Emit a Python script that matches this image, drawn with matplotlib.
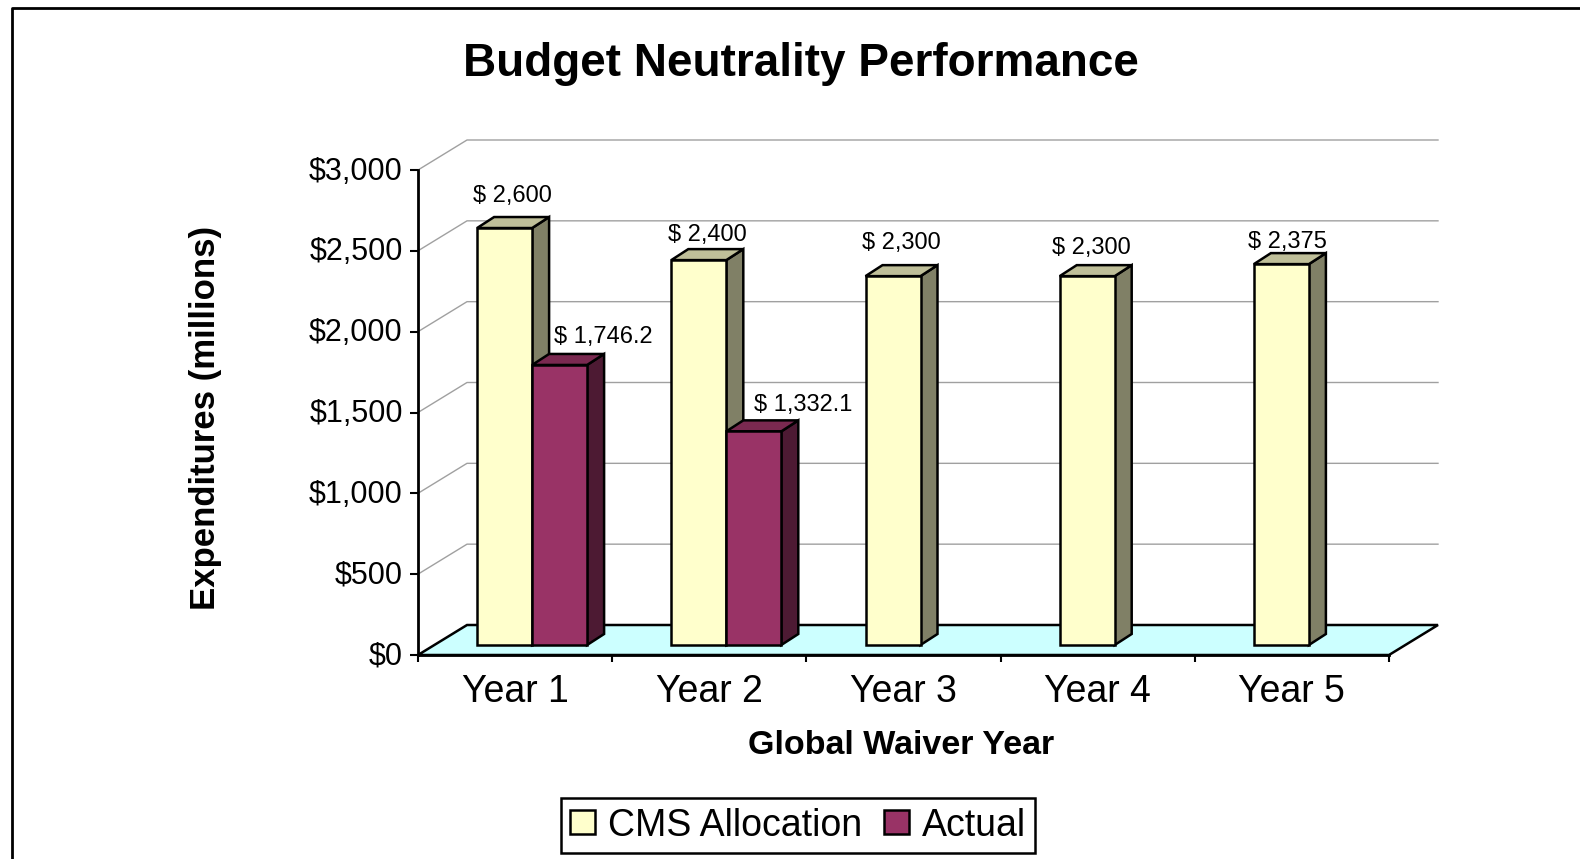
import matplotlib
matplotlib.use("Agg")
import matplotlib.pyplot as plt
from matplotlib.lines import Line2D
from matplotlib.patches import Patch, Polygon
from matplotlib.transforms import ScaledTranslation

plt.rcParams["font.family"] = ["Liberation Sans", "DejaVu Sans"]

# data
years = ["Year 1", "Year 2", "Year 3", "Year 4", "Year 5"]
cms_allocation = [2600, 2400, 2300, 2300, 2375]
actual = [1746.2, 1332.1, None, None, None]
cms_labels = ["$ 2,600", "$ 2,400", "$ 2,300", "$ 2,300", "$ 2,375"]
actual_labels = ["$ 1,746.2", "$ 1,332.1", None, None, None]
y_ticks = [0, 500, 1000, 1500, 2000, 2500, 3000]

# figure layout, in pixels of the 1580x859 image
W, H = 1580, 859
AX_LEFT, AX_RIGHT = 418, 1389
AX_TOP, AX_BOTTOM = 170, 655
YMAX = 3000
PX_X = 5 / (AX_RIGHT - AX_LEFT)
PX_Y = YMAX / (AX_BOTTOM - AX_TOP)

# depth of the fake 3D, converted to data units
WALL_DX, WALL_DY = 49 * PX_X, 30 * PX_Y
BAR_DX, BAR_DY = 17 * PX_X, 11 * PX_Y
FRONT_DX, FRONT_DY = 17 * PX_X, 10 * PX_Y
BAR_W = 55 * PX_X
# the bars stand further back than the axis, so they come out a little shorter
BAR_SCALE = 0.992

CMS_COLORS = ("#FFFFCC", "#BFBF99", "#808066")
ACTUAL_COLORS = ("#993366", "#7A2950", "#4D1A33")

# labels were placed by hand in the original, offsets are px from the bar centre
cms_offsets = [(8, 32), (9, 25), (8, 33), (4, 28), (6, 22)]
actual_offsets = [(44, 28), (49, 26), None, None, None]

fig = plt.figure(figsize=(W / 100, H / 100), dpi=100)
ax = fig.add_axes([AX_LEFT / W, 1 - AX_BOTTOM / H, (AX_RIGHT - AX_LEFT) / W, (AX_BOTTOM - AX_TOP) / H])
ax.set_xlim(0, 5)
ax.set_ylim(0, YMAX)
ax.patch.set_visible(False)


def draw_bar(x, value, colors, z):
    """Front face plus top and side faces of one bar."""
    front, top, side = colors
    height = value * BAR_SCALE
    y0 = FRONT_DY
    y1 = FRONT_DY + height
    x1 = x + BAR_W
    ax.add_patch(Polygon([(x1, y0), (x1 + BAR_DX, y0 + BAR_DY), (x1 + BAR_DX, y1 + BAR_DY), (x1, y1)],
                         facecolor=side, edgecolor="black", lw=1.8, zorder=z, clip_on=False, joinstyle="miter"))
    ax.add_patch(Polygon([(x, y1), (x + BAR_DX, y1 + BAR_DY), (x1 + BAR_DX, y1 + BAR_DY), (x1, y1)],
                         facecolor=top, edgecolor="black", lw=1.8, zorder=z, clip_on=False, joinstyle="miter"))
    ax.bar(x, height, width=BAR_W, bottom=y0, align="edge", color=front, edgecolor="black",
           linewidth=1.8, zorder=z + 0.1, clip_on=False)


def draw_label(x, value, text, offset):
    ax.annotate(text, xy=(x + BAR_W / 2, FRONT_DY + value * BAR_SCALE), xytext=offset, textcoords="offset pixels",
                ha="center", va="center", fontsize=17, color="black", zorder=50, annotation_clip=False)


# back wall grid lines, with the short diagonal on the side wall
for v in y_ticks[1:]:
    ax.plot([0, WALL_DX, 5 + WALL_DX], [v, v + WALL_DY, v + WALL_DY], color="#A0A0A0", lw=1,
            zorder=1, clip_on=False)

# floor
ax.add_patch(Polygon([(0, 0), (WALL_DX, WALL_DY), (5 + WALL_DX, WALL_DY), (5, 0)], facecolor="#CCFFFF",
                     edgecolor="black", lw=1.8, zorder=2, clip_on=False))

for i in range(len(years)):
    centre = i + 0.5
    draw_bar(centre - BAR_W + FRONT_DX, cms_allocation[i], CMS_COLORS, 3 + i)
    draw_label(centre - BAR_W + FRONT_DX, cms_allocation[i], cms_labels[i], cms_offsets[i])
    if actual[i] is not None:
        draw_bar(centre + FRONT_DX, actual[i], ACTUAL_COLORS, 3.5 + i)
        draw_label(centre + FRONT_DX, actual[i], actual_labels[i], actual_offsets[i])

# axes
for name in ["top", "right"]:
    ax.spines[name].set_visible(False)
for name in ["left", "bottom"]:
    ax.spines[name].set_linewidth(2)
    ax.spines[name].set_zorder(30)

ax.set_yticks(y_ticks)
ax.set_yticklabels(["${:,}".format(v) for v in y_ticks], fontsize=22)
ax.set_xticks(range(6))
ax.set_xticklabels([])
ax.set_xticks([i + 0.5 for i in range(5)], minor=True)
ax.set_xticklabels(years, minor=True, fontsize=27)
ax.tick_params(axis="x", which="major", length=5, width=1.5, direction="out")
ax.tick_params(axis="x", which="minor", length=0, pad=14)
ax.tick_params(axis="y", length=6, width=1.5, direction="out", pad=5)
for label in ax.get_yticklabels():
    label.set_transform(label.get_transform() + ScaledTranslation(0, 2 / 100, fig.dpi_scale_trans))

# titles
fig.text(801 / W, 1 - 64 / H, "Budget Neutrality Performance", fontsize=33, fontweight="bold",
         ha="center", va="center")
fig.text(206 / W, 1 - 418 / H, "Expenditures (millions)", fontsize=25, fontweight="bold", rotation=90,
         ha="center", va="center")
fig.text(901 / W, 1 - 746 / H, "Global Waiver Year", fontsize=24.5, fontweight="bold", ha="center", va="center")

# legend
handles = [Patch(facecolor=CMS_COLORS[0], edgecolor="black", lw=1.8),
           Patch(facecolor=ACTUAL_COLORS[0], edgecolor="black", lw=1.8)]
leg = fig.legend(handles, ["CMS Allocation", "Actual"], ncol=2, loc="center", bbox_to_anchor=(798 / W, 1 - 825.5 / H),
                 fontsize=27, frameon=True, fancybox=False, edgecolor="black", framealpha=1,
                 handlelength=0.65, handleheight=0.6, handletextpad=0.35, columnspacing=0.6, borderpad=0.25,
                 borderaxespad=0)
leg.get_frame().set_linewidth(1.8)

# outer frame of the slide, it runs off the bottom and right of the crop
fig.add_artist(Line2D([12 / W, 12 / W, 1], [0, 1 - 8 / H, 1 - 8 / H], transform=fig.transFigure, color="black", lw=2))

fig.savefig("out.png", dpi=100)
